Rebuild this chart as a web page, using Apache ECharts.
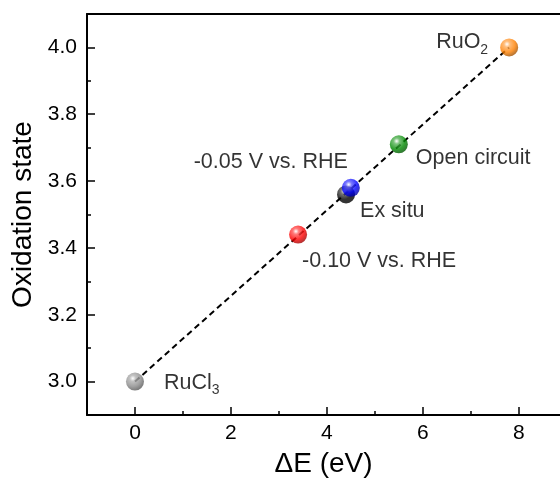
<!DOCTYPE html>
<html>
<head>
<meta charset="utf-8">
<script src="https://cdn.jsdelivr.net/npm/echarts@6/dist/echarts.min.js"></script>
<style>html,body{margin:0;padding:0;background:#fff}#c{width:560px;height:483px}</style>
</head>
<body>
<div id="c"></div>
<script>
// ---- data ----
var names   = ['RuCl3', '-0.10 V vs. RHE', 'Ex situ', '-0.05 V vs. RHE', 'Open circuit', 'RuO2'];
var deltaE  = [0.0, 3.4, 4.4, 4.5, 5.5, 7.8];
var oxState = [3.00, 3.44, 3.56, 3.58, 3.71, 4.00];
var fitX    = [0.0, 7.8];
var fitY    = [3.00, 4.00];
var xMajorTicks = [0, 2, 4, 6, 8];
var xMinorTicks = [1, 3, 5, 7];
var yMajorTicks = [3.0, 3.2, 3.4, 3.6, 3.8, 4.0];
var yMinorTicks = [3.1, 3.3, 3.5, 3.7, 3.9];
var xRange = [-1, 8.86];   // visible part of the frame (right edge is cut off)
var yRange = [2.9, 4.1];

// ---- styles ----
var colors = ['#8a8a8a', '#ff0000', '#000000', '#0000ff', '#008a00', '#ff8000'];
var FONT = '"Liberation Sans", Arial, sans-serif';

function shade(hex, f) {
  var n = parseInt(hex.slice(1), 16);
  var r = (n >> 16) & 255, g = (n >> 8) & 255, b = n & 255;
  function m(c) { return Math.max(0, Math.min(255, Math.round(f < 0 ? c * (1 + f) : c + (255 - c) * f))); }
  return 'rgb(' + m(r) + ',' + m(g) + ',' + m(b) + ')';
}
function sphere(hex) {
  return {
    type: 'radial', x: 0.38, y: 0.32, r: 0.75,
    colorStops: [
      { offset: 0, color: '#ffffff' },
      { offset: 0.22, color: shade(hex, 0.35) },
      { offset: 0.6, color: hex },
      { offset: 1, color: shade(hex, -0.45) }
    ]
  };
}

var rich = {
  t: { fontSize: 21.5, fontFamily: FONT, color: '#000' },
  s: { fontSize: 14, fontFamily: FONT, color: '#000', padding: [15, 0, 0, 0] }
};
var labelCfg = [
  { position: 'right', distance: 20, offset: [0, 1], text: '{t|RuCl}{s|3}' },
  { position: 'right', distance: 0, offset: [-5, 27], text: '{t|-0.10 V vs. RHE}' },
  { position: 'right', distance: 5, offset: [0, 17], text: '{t|Ex situ}' },
  { position: 'left', distance: -6, offset: [0, -26], text: '{t|-0.05 V vs. RHE}' },
  { position: 'right', distance: 8, offset: [0, 14], text: '{t|Open circuit}' },
  { position: 'left', distance: 12, offset: [0, -5], text: '{t|RuO}{s|2}' }
];

var pts = names.map(function (n, i) {
  var lc = labelCfg[i];
  return {
    name: n,
    value: [deltaE[i], oxState[i]],
    itemStyle: { color: sphere(colors[i]) },
    label: {
      show: true, position: lc.position, distance: lc.distance, offset: lc.offset,
      formatter: lc.text, rich: rich
    }
  };
});

var axisLine = { show: true, onZero: false, lineStyle: { color: '#000', width: 2 } };

var option = {
  backgroundColor: '#fff',
  animation: false,
  grid: { left: 87, top: 14, right: 0, bottom: 66, show: false },
  xAxis: [{
    type: 'value', min: xRange[0], max: xRange[1],
    name: 'ΔE (eV)', nameLocation: 'middle', nameGap: 35,
    nameTextStyle: { fontSize: 28, fontFamily: FONT, color: '#000' },
    axisLine: axisLine,
    splitLine: { show: false },
    axisTick: { show: true, inside: true, length: 8, customValues: xMajorTicks, lineStyle: { color: '#000', width: 1.5 } },
    axisLabel: { show: true, customValues: xMajorTicks, fontSize: 21, fontFamily: FONT, color: '#000', margin: 8 }
  }, {
    type: 'value', min: xRange[0], max: xRange[1], position: 'bottom',
    axisLine: { show: false, onZero: false },
    splitLine: { show: false },
    axisTick: { show: true, inside: true, length: 4, customValues: xMinorTicks, lineStyle: { color: '#000', width: 1.5 } },
    axisLabel: { show: false }
  }, {
    type: 'value', min: xRange[0], max: xRange[1], position: 'top',
    axisLine: axisLine,
    splitLine: { show: false },
    axisTick: { show: false },
    axisLabel: { show: false }
  }],
  yAxis: [{
    type: 'value', min: yRange[0], max: yRange[1],
    name: 'Oxidation state', nameLocation: 'middle', nameGap: 50,
    nameTextStyle: { fontSize: 28, fontFamily: FONT, color: '#000' },
    axisLine: axisLine,
    splitLine: { show: false },
    axisTick: { show: true, inside: true, length: 8, customValues: yMajorTicks, lineStyle: { color: '#000', width: 1.5 } },
    axisLabel: { show: true, customValues: yMajorTicks, fontSize: 21, fontFamily: FONT, color: '#000', margin: 10,
      formatter: function (v) { return v.toFixed(1); } }
  }, {
    type: 'value', min: yRange[0], max: yRange[1], position: 'left',
    axisLine: { show: false, onZero: false },
    splitLine: { show: false },
    axisTick: { show: true, inside: true, length: 4, customValues: yMinorTicks, lineStyle: { color: '#000', width: 1.5 } },
    axisLabel: { show: false }
  }],
  series: [{
    type: 'line',
    data: fitX.map(function (x, i) { return [x, fitY[i]]; }),
    showSymbol: false, symbol: 'none',
    lineStyle: { color: '#000', width: 2, type: [6, 4] },
    z: 1
  }, {
    type: 'scatter',
    symbolSize: 18,
    data: pts,
    z: 3
  }]
};

var chart = echarts.init(document.getElementById('c'), null, { renderer: 'canvas' });
chart.setOption(option);
</script>
</body>
</html>
